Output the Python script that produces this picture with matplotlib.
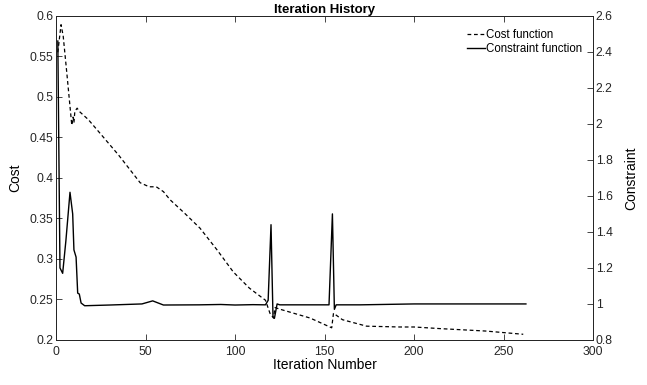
"""Iteration history: cost and constraint vs iteration number."""
import matplotlib
matplotlib.use("Agg")
import matplotlib.pyplot as plt
from matplotlib.ticker import FormatStrFormatter, MultipleLocator

plt.rcParams["font.family"] = ["Liberation Sans", "DejaVu Sans"]

# ---- data ------------------------------------------------------------------
cost_iter = [1, 2.8, 4, 6, 8.8, 9.5, 10, 10.5, 11.8, 13, 18, 24.6, 35, 47, 52,
             56, 60, 63.7, 72, 80.4, 90, 99, 108, 117, 119.5, 121.5, 122.3,
             125, 142, 154, 155, 160, 173.5, 192, 200, 214.5, 240, 261]
cost_val = [0.555, 0.589, 0.575, 0.53, 0.465, 0.475, 0.468, 0.482, 0.486,
            0.482, 0.472, 0.455, 0.428, 0.394, 0.389, 0.389, 0.383, 0.373,
            0.356, 0.338, 0.311, 0.284, 0.264, 0.249, 0.233, 0.227, 0.240,
            0.238, 0.227, 0.215, 0.233, 0.225, 0.217, 0.216, 0.216, 0.214,
            0.211, 0.207]

cons_iter = [1, 2.2, 3.7, 5.5, 7.8, 9.3, 10, 11.2, 12.1, 13, 14, 16, 30, 48,
             54, 60, 80, 92, 100, 110, 117, 118.5, 120.1, 121.2, 122, 123.5,
             125, 140, 152.5, 154.4, 155.5, 156.5, 170, 200, 262.5]
cons_val = [2.46, 1.20, 1.17, 1.35, 1.62, 1.50, 1.30, 1.26, 1.06, 1.055, 1.005,
            0.99, 0.994, 1.0, 1.017, 0.994, 0.995, 0.997, 0.994, 0.996, 0.995,
            1.02, 1.44, 0.93, 0.92, 1.0, 0.995, 0.995, 0.995, 1.50, 0.97,
            0.995, 0.995, 1.0, 1.0]

x_ticks = [0, 50, 100, 150, 200, 250, 300]

# ---- figure ----------------------------------------------------------------
fig = plt.figure(figsize=(6.47, 3.85), dpi=100)
ax = fig.add_axes([0.0866, 0.117, 0.830, 0.842])
ax2 = ax.twinx()

l1, = ax.plot(cost_iter, cost_val, "k--", lw=0.9, dashes=(3, 2.2),
              label="Cost function")
l2, = ax2.plot(cons_iter, cons_val, "k-", lw=1.0, label="Constraint function")

ax.set_xlim(0, 300)
ax.set_xticks(x_ticks)
ax.set_ylim(0.2, 0.6)
ax.yaxis.set_major_locator(MultipleLocator(0.05))
ax.yaxis.set_major_formatter(FormatStrFormatter("%g"))
ax2.set_ylim(0.8, 2.6)
ax2.yaxis.set_major_locator(MultipleLocator(0.2))
ax2.yaxis.set_major_formatter(FormatStrFormatter("%g"))

for a in (ax, ax2):
    a.tick_params(direction="in", length=4, width=0.6, labelsize=8.7,
                  colors="#262626", pad=2)
    for s in a.spines.values():
        s.set_linewidth(0.7)
        s.set_color("#262626")
ax.tick_params(axis="x", top=True, pad=4)

ax.set_xlabel("Iteration Number", fontsize=10, labelpad=0)
ax.set_ylabel("Cost", fontsize=10, labelpad=5)
ax2.set_ylabel("Constraint", fontsize=10, labelpad=8)
ax.set_title("Iteration History", fontsize=9.5, fontweight="bold", pad=1)

ax2.legend(handles=[l1, l2], loc="upper right", frameon=False, fontsize=8.3,
           handlelength=1.6, handletextpad=0.1, labelspacing=0.2,
           borderaxespad=0.3, bbox_to_anchor=(0.995, 0.985))

fig.savefig("out.png", dpi=100)
